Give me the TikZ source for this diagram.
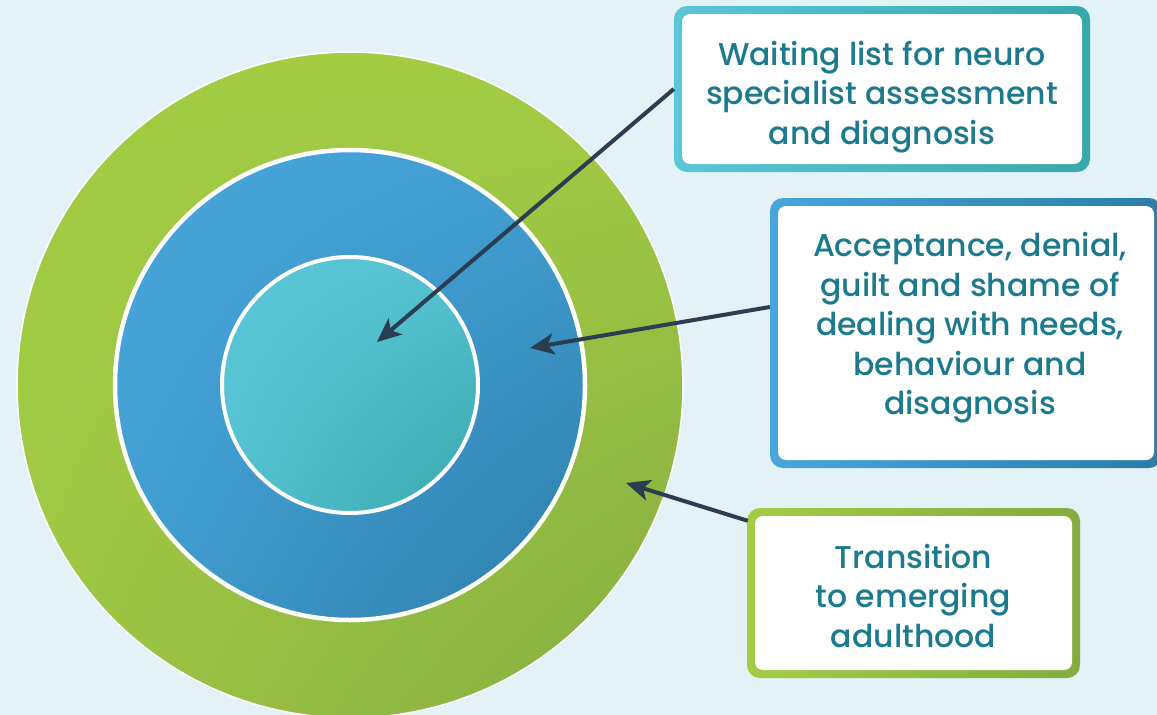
\documentclass[tikz,border=0pt]{standalone}
\usepackage{fontspec}
\setmainfont{Poppins Medium}
\usetikzlibrary{arrows.meta,calc,shadings}
\definecolor{bg}{HTML}{E3F2F6}
\definecolor{grA}{HTML}{A3CC44}
\definecolor{grB}{HTML}{84AC40}
\definecolor{blA}{HTML}{47A6DC}
\definecolor{blB}{HTML}{2C7DA8}
\definecolor{tqA}{HTML}{5AC6D8}
\definecolor{tqB}{HTML}{37A8AB}
\definecolor{txt}{HTML}{1C7A8E}
\definecolor{arr}{HTML}{2B3D50}
\tikzset{
  frame/.style={rounded corners=13pt, inner sep=0pt},
  inbox/.style={fill=white, rounded corners=8pt, inner sep=0pt},
  label text/.style={inner sep=0pt, align=center, text=txt, font=\fontsize{31.5}{39.5}\selectfont},
  pointer/.style={draw=arr, line width=4pt, -{Stealth[length=24pt,width=21pt,inset=6pt]}},
}
\begin{document}
\begin{tikzpicture}[x=1pt,y=-1pt]
\path[fill=bg] (0,0) rectangle (1157,715);
\useasboundingbox (0,0) rectangle (1157,715);
% circles
\coordinate (c) at (350,385);
\shade[upper left=grA, upper right=grA, lower left=grA!85!grB, lower right=grB, draw=white, line width=1.6pt] (c) circle[radius=333];
\shade[upper left=blA, upper right=blA!80!blB, lower left=blA!80!blB, lower right=blB, draw=white, line width=4.5pt] (c) circle[radius=235];
\shade[upper left=tqA, upper right=tqA!85!tqB, lower left=tqA!85!tqB, lower right=tqB, draw=white, line width=4pt] (c) circle[radius=128];
% boxes
\node[frame, minimum width=416pt, minimum height=166pt, left color=tqA, right color=tqB] (f1) at (882,89) {};
\node[inbox, minimum width=400pt, minimum height=150pt] (b1) at (f1) {};
\node[label text] (l1) at ($(b1)+(0,8)$) {Waiting list for neuro\\specialist assessment\\and diagnosis};
\node[frame, minimum width=392pt, minimum height=270pt, left color=blA, right color=blB] (f2) at (966,333) {};
\node[inbox, minimum width=376pt, minimum height=254pt] (b2) at (f2) {};
\node[label text] (l2) at ($(b2)+(4,-5)$) {Acceptance, denial,\\guilt and shame of\\dealing with needs,\\behaviour and\\disagnosis};
\node[frame, minimum width=333pt, minimum height=170pt, left color=grA, right color=grB] (f3) at (913.5,593) {};
\node[inbox, minimum width=317pt, minimum height=154pt] (b3) at (f3) {};
\node[label text] (l3) at ($(b3)+(0,3)$) {Transition\\to emerging\\adulthood};
% arrows
\coordinate (t1) at (377,342);
\coordinate (t2) at (530,348);
\coordinate (t3) at (626,483);
\draw[pointer] (f1.west) -- (t1);
\draw[pointer] ($(f2.west)+(0,-26)$) -- (t2);
\draw[pointer] ($(f3.north west)+(1,13)$) -- (t3);
\end{tikzpicture}
\end{document}
